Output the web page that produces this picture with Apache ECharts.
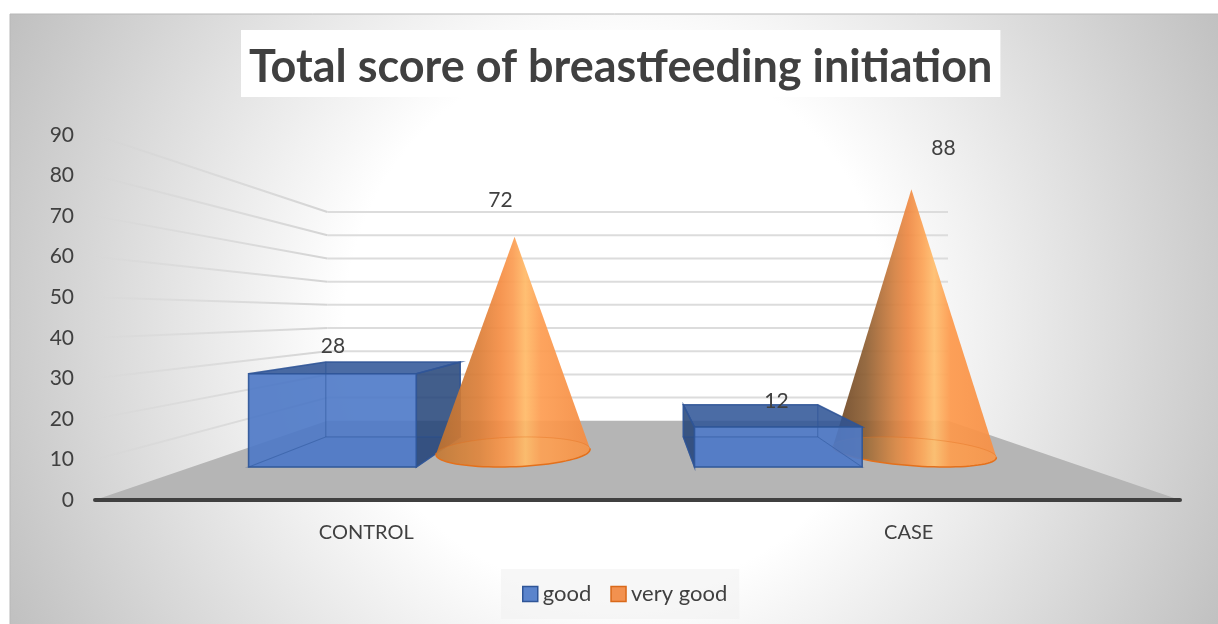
<!DOCTYPE html>
<html>
<head>
<meta charset="utf-8">
<style>
  html, body { margin: 0; padding: 0; background: #fff; }
  #main { width: 1218px; height: 624px; }
</style>
<script src="https://cdn.jsdelivr.net/npm/echarts@6/dist/echarts.min.js"></script>
</head>
<body>
<div id="main"></div>
<script>
const categories = ['CONTROL', 'CASE'];
const goodValues = [28, 12];
const veryGoodValues = [72, 88];
const wallTicks = [0, 10, 20, 30, 40, 50, 60, 70, 80, 90];

// fake perspective: everything is read from the front plane (the grid) then pulled
// towards the vanishing point by a factor k
const vp = [638, 315];
const backK = 0.572;
const barFrontK = 0.822;
const barBackK = 0.659;
const textColor = '#404040';
const fontName = 'Lato, "Open Sans", sans-serif';

function proj(x, y, k) {
  return [vp[0] + (x - vp[0]) * k, vp[1] + (y - vp[1]) * k];
}

function face(points, fill, opacity, z2) {
  return {
    type: 'polygon',
    shape: { points: points },
    z2: z2,
    style: { fill: fill, opacity: opacity, stroke: '#2f5597', lineWidth: 1.5 }
  };
}

function wire(points, z2) {
  return {
    type: 'polyline',
    shape: { points: points },
    z2: z2,
    style: { fill: 'none', stroke: 'rgba(47,85,151,0.5)', lineWidth: 1 }
  };
}

function renderWall(params, api) {
  const v = api.value(1);
  const box = params.coordSys;
  const y = api.coord([0, v])[1];
  const left = box.x;
  const right = box.x + box.width;
  if (v === 0) {
    return {
      type: 'polygon',
      shape: { points: [[left, y], [right, y], proj(right, y, backK), proj(left, y, backK)] },
      style: { fill: '#b5b5b5' }
    };
  }
  const a = proj(left, y, backK);
  const b = proj(right, y, backK);
  return {
    type: 'group',
    children: [
      { type: 'line', shape: { x1: a[0], y1: a[1], x2: b[0], y2: b[1] }, style: { stroke: '#dcdcdc', lineWidth: 2 } },
      {
        type: 'line',
        shape: { x1: left, y1: y, x2: a[0], y2: a[1] },
        style: {
          lineWidth: 2,
          stroke: new echarts.graphic.LinearGradient(0, 0, 1, 0, [
            { offset: 0, color: 'rgba(205,205,205,0)' },
            { offset: 0.2, color: 'rgba(205,205,205,0.25)' },
            { offset: 1, color: 'rgba(212,212,212,1)' }
          ])
        }
      }
    ]
  };
}

const barLabelNudge = [[-60, -16], [26, -4]];

function renderBar(params, api) {
  const i = api.value(0);
  const center = api.coord([i, 0])[0] - 100;
  const y0 = api.coord([i, 0])[1];
  const y1 = api.coord([i, api.value(1)])[1];
  const xa = center - 102;
  const xb = center + 102;
  // the bar sits under the cone on the first category, over it on the second
  const z = i === 0 ? 10 : 30;

  const fa0 = proj(xa, y0, barFrontK), fb0 = proj(xb, y0, barFrontK);
  const fa1 = proj(xa, y1, barFrontK), fb1 = proj(xb, y1, barFrontK);
  const ba0 = proj(xa, y0, barBackK), bb0 = proj(xb, y0, barBackK);
  const ba1 = proj(xa, y1, barBackK), bb1 = proj(xb, y1, barBackK);
  const dark = 'rgb(36,68,120)';

  return {
    type: 'group',
    children: [
      face([ba0, bb0, bb1, ba1], '#4f7ac8', 0.12, z),
      face([fa0, fb0, bb0, ba0], '#3f68b4', 0.3, z),
      face([fa0, ba0, ba1, fa1], dark, i === 0 ? 0.15 : 0.85, z + 1),
      face([fb0, bb0, bb1, fb1], dark, i === 0 ? 0.85 : 0.15, z + 1),
      face([fa1, fb1, bb1, ba1], '#2f5597', 0.85, z + 2),
      face([fa0, fb0, fb1, fa1], '#4f7ac8', 0.9, z + 3),
      // back edges showing through the glassy front
      wire([ba1, ba0, bb0, bb1], z + 4),
      wire([fa0, ba0], z + 4),
      wire([fb0, bb0], z + 4),
      {
        type: 'text',
        z2: 50,
        style: {
          x: (ba1[0] + bb1[0]) / 2 + barLabelNudge[i][0],
          y: ba1[1] + barLabelNudge[i][1],
          text: String(api.value(1)),
          fill: textColor,
          font: '21px ' + fontName,
          align: 'center',
          verticalAlign: 'middle'
        }
      }
    ]
  };
}

const coneLabelNudge = [[-14, -36], [32, -41]];
const coneStops = [
  [[0, '#bb7130'], [0.28, '#dc7f39'], [0.42, '#f58e45'], [0.5, '#fb9d53'], [0.58, '#ffba68'], [0.68, '#fd9d52'], [1, '#f48c42']],
  [[0, '#674323'], [0.2, '#8f6034'], [0.38, '#d58141'], [0.46, '#ef8a45'], [0.55, '#fca457'], [0.62, '#ffbe6e'], [0.72, '#fd994c'], [1, '#f79045']]
];

function renderCone(params, api) {
  const i = api.value(0);
  const cx = api.coord([i, 0])[0] + 103;
  const y0 = api.coord([i, 0])[1];
  const y1 = api.coord([i, api.value(1)])[1];
  const z = i === 0 ? 20 : 10;
  const R = 103;
  const w0 = 0.367;
  const rw = 0.15;
  const n = 96;

  const ring = [];
  for (let t = 0; t < n; t++) {
    const th = t / n * Math.PI * 2;
    const k = 1 / (1 + w0 - rw * Math.sin(th));
    ring.push(proj(cx + R * Math.cos(th), y0, k));
  }
  const apex = proj(cx, y1, 1 / (1 + w0));

  // tangents from the apex to the base ring
  let ir = 0, il = 0, minA = Infinity, maxA = -Infinity;
  ring.forEach(function (p, t) {
    const a = Math.atan2(p[1] - apex[1], p[0] - apex[0]);
    if (a < minA) { minA = a; ir = t; }
    if (a > maxA) { maxA = a; il = t; }
  });
  const front = [];
  const back = [];
  for (let t = ir; ; t = (t + 1) % n) {
    front.push(ring[t]);
    if (t === il) break;
  }
  for (let t = il; ; t = (t + 1) % n) {
    back.push(ring[t]);
    if (t === ir) break;
  }

  return {
    type: 'group',
    children: [
      {
        type: 'polygon',
        shape: { points: [apex].concat(front) },
        z2: z,
        style: {
          fill: new echarts.graphic.LinearGradient(0, 0, 1, 0, coneStops[i].map(function (s) {
            return { offset: s[0], color: s[1] };
          })),
          opacity: 0.93
        }
      },
      {
        type: 'polygon',
        shape: { points: ring },
        z2: z + 1,
        style: { fill: 'rgba(255,205,120,0.10)' }
      },
      {
        type: 'polyline',
        shape: { points: back },
        z2: z + 1,
        style: { fill: 'none', stroke: 'rgba(228,112,30,0.4)', lineWidth: 1 }
      },
      {
        type: 'polyline',
        shape: { points: front },
        z2: z + 1,
        style: { fill: 'none', stroke: '#e3701c', lineWidth: 1.5 }
      },
      {
        type: 'text',
        z2: 50,
        style: {
          x: apex[0] + coneLabelNudge[i][0],
          y: apex[1] + coneLabelNudge[i][1],
          text: String(api.value(1)),
          fill: textColor,
          font: '21px ' + fontName,
          align: 'center',
          verticalAlign: 'middle'
        }
      }
    ]
  };
}

const myChart = echarts.init(document.getElementById('main'), null, { renderer: 'canvas' });

const option = {
  animation: false,
  backgroundColor: '#fff',
  textStyle: { fontFamily: fontName },
  graphic: [
    {
      type: 'rect',
      z: -10,
      silent: true,
      shape: { x: 10, y: 14, width: 1214, height: 616 },
      style: {
        stroke: '#b8b8b8',
        lineWidth: 1,
        fill: new echarts.graphic.RadialGradient(0.5, 0.5, 1.1, [
          { offset: 0, color: '#ffffff' },
          { offset: 0.4, color: '#ffffff' },
          { offset: 1, color: '#c0c0c0' }
        ])
      }
    }
  ],
  title: {
    text: 'Total score of breastfeeding initiation',
    left: 241,
    top: 30,
    padding: [15, 8, 7, 8],
    backgroundColor: '#ffffff',
    textStyle: {
      color: textColor,
      fontFamily: fontName,
      fontWeight: 'bold',
      fontSize: 45,
      lineHeight: 45
    }
  },
  legend: {
    left: 501,
    top: 569,
    padding: [14, 12, 14, 21],
    itemGap: 19,
    itemWidth: 15,
    itemHeight: 15,
    backgroundColor: 'rgba(240,240,240,0.5)',
    textStyle: { color: textColor, fontSize: 22, fontFamily: fontName },
    data: [
      { name: 'good', icon: 'rect', itemStyle: { color: '#5b84cc', borderColor: '#2f5597', borderWidth: 1.5 } },
      { name: 'very good', icon: 'rect', itemStyle: { color: '#f2914f', borderColor: '#d9691a', borderWidth: 1.5 } }
    ]
  },
  grid: { left: 95, right: 38, top: 135, bottom: 124 },
  xAxis: {
    type: 'category',
    z: 5,
    data: categories,
    axisTick: { show: false },
    axisLine: { lineStyle: { color: '#404040', width: 4, cap: 'round' } },
    axisLabel: { color: textColor, fontSize: 20, margin: 23, fontFamily: fontName }
  },
  yAxis: {
    type: 'value',
    min: 0,
    max: 90,
    interval: 10,
    axisLine: { show: false },
    axisTick: { show: false },
    splitLine: { show: false },
    axisLabel: { color: textColor, fontSize: 21, margin: 21, padding: [2, 0, 0, 0], fontFamily: fontName }
  },
  series: [
    {
      name: 'walls',
      type: 'custom',
      z: 1,
      clip: false,
      silent: true,
      renderItem: renderWall,
      data: wallTicks.map(function (v) { return [0, v]; })
    },
    {
      name: 'good',
      type: 'custom',
      z: 3,
      clip: false,
      renderItem: renderBar,
      itemStyle: { color: '#5b84cc' },
      encode: { x: 0, y: 1 },
      data: goodValues.map(function (v, i) { return [i, v]; })
    },
    {
      name: 'very good',
      type: 'custom',
      z: 3,
      clip: false,
      renderItem: renderCone,
      itemStyle: { color: '#f2914f' },
      encode: { x: 0, y: 1 },
      data: veryGoodValues.map(function (v, i) { return [i, v]; })
    }
  ]
};

myChart.setOption(option);
</script>
</body>
</html>
